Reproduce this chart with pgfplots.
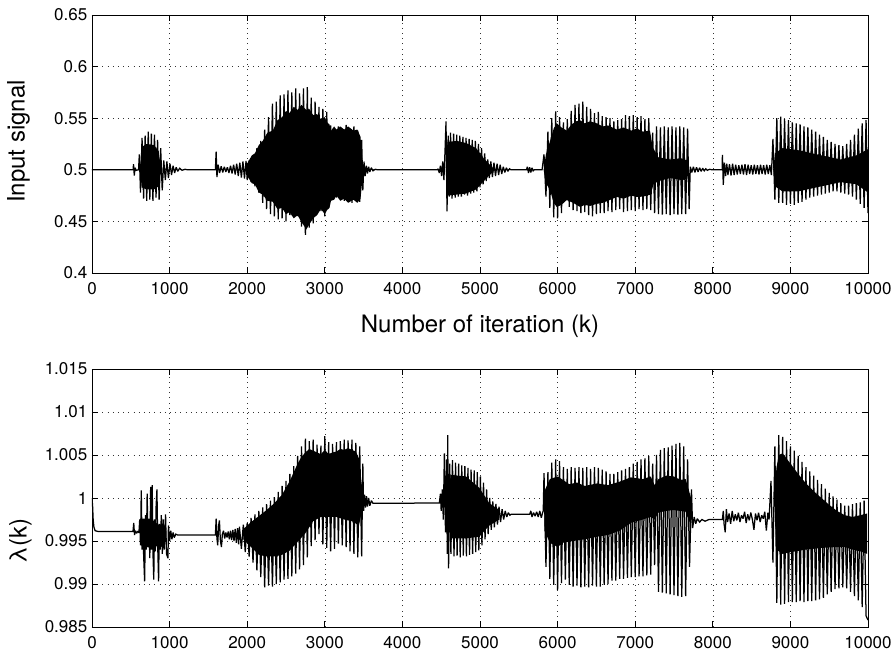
\documentclass[border=0pt]{standalone}
\usepackage{fontspec}
\setmainfont{TeX Gyre Heros}
\usepackage{pgfplots}
\pgfplotsset{compat=1.18}
\pgfplotsset{
  mystyle/.style={
    width=776pt, height=258pt, scale only axis,
    xmin=0, xmax=10000,
    xtick={0,1000,2000,3000,4000,5000,6000,7000,8000,9000,10000},
    xticklabels={0,1000,2000,3000,4000,5000,6000,7000,8000,9000,10000},
    scaled ticks=false,
    grid=major,
    major grid style={black!80, line width=0.6pt, dash pattern=on 0.8pt off 4.4pt},
    tick align=inside,
    major tick length=6pt,
    axis line style={black, line width=0.9pt},
    every tick/.style={black, line width=0.9pt},
    tick label style={font=\fontsize{17}{19}\selectfont, inner sep=0pt},
    xticklabel style={anchor=base, yshift=-21.5pt},
    yticklabel style={anchor=east, xshift=-4.5pt},
    label style={font=\fontsize{24}{28}\selectfont, inner sep=0pt},
    /pgf/number format/assume math mode=true,
  },
  sig/.style={black, line width=1.25pt, line join=miter, miter limit=2},
  core/.style={fill=black, draw=none},
}
\begin{document}
\begin{tikzpicture}
\useasboundingbox (-92pt,-380pt) rectangle (803pt,273pt);
% ---------------- top axis ----------------
\begin{axis}[mystyle, at={(0pt,0pt)}, anchor=south west,
  ymin=0.4, ymax=0.65,
  ytick={0.4,0.45,0.5,0.55,0.6,0.65},
  yticklabels={0.4,0.45,0.5,0.55,0.6,0.65},
  xlabel={Number of iteration (k)},
  xlabel style={at={(axis description cs:0.5,0)}, anchor=base, yshift=-59.7pt},
  ylabel={Input signal},
  ylabel style={at={(axis description cs:-0.0799,0.51)}, anchor=south},
]
% cores
\addplot[core] coordinates {(620,0.500)(640,0.522)(700,0.525)(800,0.524)(860,0.518)(890,0.5)(860,0.484)(800,0.481)(700,0.481)(640,0.483)} -- cycle;
\addplot[core] coordinates {(2000,0.506)(2060,0.514)(2100,0.516)(2150,0.524)(2200,0.528)(2260,0.536)(2330,0.538)(2390,0.548)(2450,0.551)(2500,0.557)(2545,0.555)(2600,0.561)(2650,0.558)(2700,0.563)(2760,0.558)(2800,0.559)(2850,0.553)(2900,0.554)(2950,0.549)(3000,0.551)(3030,0.546)(3060,0.544)(3080,0.538)(3120,0.542)(3150,0.539)(3200,0.542)(3250,0.539)(3300,0.542)(3370,0.538)(3420,0.539)(3460,0.532)(3490,0.505)(3490,0.495)(3460,0.472)(3420,0.468)(3370,0.471)(3300,0.468)(3250,0.472)(3200,0.470)(3150,0.475)(3120,0.471)(3080,0.470)(3060,0.463)(3030,0.461)(3000,0.457)(2950,0.462)(2900,0.456)(2850,0.453)(2800,0.447)(2760,0.442)(2730,0.446)(2700,0.449)(2650,0.456)(2600,0.453)(2545,0.459)(2500,0.457)(2450,0.463)(2390,0.462)(2330,0.469)(2260,0.470)(2200,0.476)(2150,0.478)(2100,0.486)(2060,0.487)(2000,0.494)} -- cycle;
\addplot[core] coordinates {(4560,0.5)(4580,0.527)(4700,0.528)(4820,0.526)(4950,0.521)(5050,0.511)(5150,0.503)(5200,0.5)(5150,0.497)(5050,0.489)(4950,0.481)(4820,0.477)(4700,0.476)(4580,0.475)} -- cycle;
\addplot[core] coordinates {(5820,0.5)(5850,0.515)(5903,0.528)(5950,0.540)(5990,0.545)(6050,0.541)(6118,0.538)(6180,0.544)(6240,0.547)(6290,0.548)(6350,0.545)(6420,0.547)(6505,0.545)(6580,0.542)(6650,0.543)(6763,0.539)(6850,0.541)(6950,0.538)(7021,0.540)(7100,0.537)(7190,0.538)(7225,0.522)(7300,0.512)(7450,0.510)(7600,0.511)(7670,0.509)(7690,0.5)(7670,0.491)(7600,0.490)(7450,0.492)(7300,0.489)(7236,0.486)(7200,0.476)(7100,0.474)(7021,0.4737)(6950,0.475)(6850,0.472)(6763,0.4737)(6650,0.470)(6580,0.468)(6505,0.467)(6420,0.465)(6350,0.466)(6290,0.464)(6200,0.468)(6118,0.4707)(6050,0.466)(5989,0.464)(5950,0.468)(5903,0.4804)(5850,0.487)} -- cycle;
\addplot[core] coordinates {(8780,0.5)(8800,0.516)(8900,0.521)(9100,0.519)(9400,0.514)(9650,0.510)(9850,0.514)(10000,0.520)(10000,0.478)(9850,0.486)(9650,0.488)(9400,0.484)(9100,0.479)(8900,0.479)(8800,0.484)} -- cycle;
% signal
\addplot[sig] coordinates {
(0,0.5)(530,0.5)(535,0.5055)(545,0.4945)(555,0.502)(570,0.4995)(600,0.5)
(610,0.515)(625,0.478)(645,0.531)(665,0.472)(685,0.533)(705,0.470)(725,0.537)(745,0.471)(765,0.535)(785,0.470)(805,0.534)(825,0.473)(845,0.529)(865,0.471)(885,0.521)(905,0.480)
(925,0.509)(945,0.490)(965,0.508)(985,0.492)(1005,0.506)(1025,0.495)(1045,0.504)(1065,0.497)(1085,0.5025)(1105,0.4985)(1130,0.5015)(1160,0.4995)(1200,0.5005)(1230,0.5)(1590,0.5)
(1600,0.5177)(1610,0.493)(1625,0.505)(1645,0.497)(1665,0.5035)(1685,0.4975)(1705,0.503)(1725,0.498)(1745,0.5025)(1765,0.497)(1785,0.504)(1805,0.4965)(1825,0.505)(1845,0.4955)(1865,0.506)(1885,0.494)(1905,0.507)(1925,0.4925)(1945,0.508)(1965,0.4915)(1985,0.5085)
(2000,0.490)(2025,0.509)(2050,0.488)(2075,0.513)(2100,0.484)(2125,0.521)(2150,0.478)(2175,0.528)(2200,0.468)(2225,0.539)(2250,0.462)(2275,0.551)(2300,0.457)(2325,0.564)(2350,0.455)(2375,0.566)(2400,0.452)(2425,0.572)(2450,0.453)(2475,0.573)(2500,0.450)(2525,0.577)(2550,0.456)(2575,0.575)(2600,0.458)(2625,0.579)(2650,0.455)(2675,0.574)(2700,0.445)(2725,0.579)(2750,0.437)(2775,0.580)(2800,0.444)(2825,0.570)(2850,0.448)(2875,0.566)(2900,0.457)(2925,0.561)(2950,0.460)(2975,0.559)(3000,0.455)(3025,0.556)(3050,0.465)(3075,0.543)(3100,0.474)(3125,0.539)(3150,0.473)(3175,0.542)(3200,0.472)(3225,0.538)(3250,0.470)(3275,0.5435)(3300,0.469)(3325,0.540)(3350,0.468)(3375,0.542)(3400,0.470)(3425,0.538)(3450,0.469)(3475,0.529)(3490,0.480)
(3505,0.508)(3520,0.494)(3535,0.504)(3550,0.4965)(3565,0.503)(3580,0.498)(3600,0.502)(3620,0.499)(3650,0.5005)(3680,0.5)(4450,0.5)
(4460,0.501)(4475,0.497)(4490,0.504)(4505,0.494)(4520,0.508)(4535,0.49)(4550,0.52)(4562,0.5468)(4575,0.4597)(4590,0.533)(4605,0.474)(4620,0.536)(4640,0.472)(4660,0.535)(4680,0.473)(4700,0.534)(4720,0.474)(4740,0.533)(4760,0.474)(4780,0.532)(4800,0.476)(4820,0.531)(4840,0.475)(4860,0.530)(4880,0.477)(4900,0.529)(4920,0.478)(4940,0.528)(4960,0.479)(4980,0.525)(5000,0.483)(5020,0.521)(5040,0.486)(5060,0.516)(5080,0.489)(5100,0.510)(5120,0.492)(5140,0.508)(5160,0.493)(5180,0.507)(5200,0.494)(5220,0.506)(5240,0.495)(5260,0.505)(5280,0.496)(5300,0.503)(5320,0.4975)(5340,0.502)(5360,0.4985)(5380,0.501)(5400,0.5)(5600,0.5)
(5610,0.503)(5625,0.497)(5640,0.5025)(5655,0.4975)(5670,0.502)(5685,0.499)(5700,0.5)(5790,0.5)
(5800,0.500)(5825,0.515)(5850,0.474)(5875,0.537)(5900,0.463)(5925,0.550)(5950,0.454)(5975,0.5565)(6000,0.453)(6025,0.551)(6050,0.458)(6075,0.546)(6100,0.471)(6125,0.549)(6150,0.464)(6175,0.557)(6200,0.461)(6225,0.563)(6250,0.460)(6275,0.564)(6300,0.458)(6325,0.566)(6350,0.459)(6375,0.561)(6400,0.456)(6425,0.559)(6450,0.455)(6475,0.555)(6500,0.457)(6525,0.556)(6550,0.458)(6575,0.552)(6600,0.458)(6625,0.551)(6650,0.460)(6675,0.550)(6700,0.459)(6725,0.547)(6750,0.461)(6775,0.548)(6800,0.462)(6825,0.549)(6850,0.459)(6875,0.553)(6900,0.460)(6925,0.552)(6950,0.461)(6975,0.553)(7000,0.460)(7025,0.551)(7050,0.462)(7075,0.552)(7100,0.461)(7125,0.549)(7150,0.462)(7175,0.550)(7200,0.461)(7225,0.536)(7250,0.458)(7275,0.542)(7300,0.457)(7325,0.541)(7350,0.4565)(7375,0.542)(7400,0.457)(7425,0.541)(7450,0.456)(7475,0.542)(7500,0.457)(7525,0.541)(7550,0.4565)(7575,0.542)(7600,0.457)(7625,0.541)(7650,0.457)(7675,0.540)(7695,0.462)
(7710,0.503)(7730,0.4975)(7750,0.503)(7770,0.4975)(7790,0.5025)(7810,0.498)(7830,0.502)(7850,0.4985)(7870,0.5015)(7890,0.499)(7910,0.501)(7930,0.4995)(7960,0.5005)(7990,0.5)(8120,0.5)
(8124,0.5145)(8135,0.4855)(8150,0.507)(8165,0.494)(8180,0.506)(8195,0.495)(8215,0.5055)(8235,0.4945)(8255,0.506)(8275,0.495)(8295,0.505)(8315,0.4955)(8335,0.5045)(8355,0.496)(8375,0.505)(8395,0.4955)(8415,0.5055)(8435,0.495)(8455,0.505)(8475,0.496)(8495,0.5045)(8515,0.4955)(8535,0.505)(8555,0.496)(8575,0.5045)(8595,0.4955)(8615,0.505)(8635,0.496)(8655,0.5045)(8675,0.4955)(8695,0.505)(8715,0.496)(8735,0.5045)(8755,0.495)
(8775,0.530)(8800,0.471)(8825,0.550)(8850,0.468)(8875,0.5516)(8900,0.468)(8925,0.549)(8950,0.466)(8975,0.548)(9000,0.467)(9025,0.546)(9050,0.466)(9075,0.545)(9100,0.468)(9125,0.544)(9150,0.469)(9175,0.542)(9200,0.471)(9225,0.541)(9250,0.473)(9275,0.539)(9300,0.474)(9325,0.537)(9350,0.475)(9375,0.534)(9400,0.476)(9425,0.532)(9450,0.477)(9475,0.529)(9500,0.478)(9525,0.527)(9550,0.479)(9575,0.525)(9600,0.479)(9625,0.524)(9650,0.478)(9675,0.523)(9700,0.477)(9725,0.525)(9750,0.476)(9775,0.529)(9800,0.474)(9825,0.534)(9850,0.471)(9875,0.540)(9900,0.467)(9925,0.545)(9950,0.463)(9975,0.548)(10000,0.458)
};
\end{axis}
% ---------------- bottom axis ----------------
\begin{axis}[mystyle, at={(0pt,-354pt)}, anchor=south west,
  ymin=0.985, ymax=1.015,
  ytick={0.985,0.99,0.995,1,1.005,1.01,1.015},
  yticklabels={0.985,0.99,0.995,1,1.005,1.01,1.015},
  ylabel={λ(k)},
  ylabel style={at={(axis description cs:-0.0773,0.333)}, anchor=south},
]
\addplot[core] coordinates {(620,0.9960)(640,0.9976)(760,0.9976)(840,0.9970)(900,0.9966)(960,0.9961)(960,0.9950)(900,0.9947)(840,0.9944)(760,0.9942)(640,0.9944)} -- cycle;
\addplot[core] coordinates {(1950,0.9964)(2050,0.9972)(2150,0.9979)(2250,0.9986)(2350,0.9994)(2450,1.0004)(2550,1.0020)(2650,1.0040)(2700,1.0048)(2750,1.0053)(2800,1.0057)(2850,1.0055)(2900,1.0053)(2950,1.0051)(3000,1.0056)(3050,1.0051)(3100,1.0053)(3150,1.0054)(3200,1.0057)(3250,1.0056)(3300,1.0058)(3350,1.0056)(3400,1.0054)(3440,1.0046)(3489,1.0005)(3489,0.9990)(3440,0.9968)(3350,0.9973)(3250,0.9975)(3150,0.9978)(3050,0.9978)(2950,0.9978)(2850,0.9973)(2750,0.9959)(2650,0.9949)(2550,0.9939)(2450,0.9934)(2350,0.9932)(2250,0.9932)(2150,0.9934)(2050,0.9943)(1950,0.9952)} -- cycle;
\addplot[core] coordinates {(4590,0.9990)(4620,1.0027)(4820,1.0025)(4990,1.0012)(5120,0.9994)(5250,0.9986)(5250,0.9975)(5120,0.9968)(4990,0.9955)(4820,0.9953)(4620,0.9953)} -- cycle;
\addplot[core] coordinates {(5830,1.0008)(5900,1.0022)(6000,1.0025)(6071,1.0021)(6150,1.0016)(6250,1.0018)(6350,1.0014)(6510,1.0017)(6650,1.0015)(6800,1.0019)(6942,1.0024)(7100,1.0022)(7200,1.0025)(7250,1.0015)(7300,1.0022)(7400,1.0026)(7500,1.0025)(7580,1.0021)(7650,1.0022)(7720,1.0000)(7720,0.9967)(7650,0.9984)(7500,0.9986)(7400,0.9985)(7300,0.9983)(7250,0.9975)(7200,0.9978)(7100,0.9975)(6942,0.9971)(6800,0.9962)(6650,0.9957)(6510,0.9955)(6350,0.9952)(6200,0.9950)(6071,0.9948)(6000,0.9943)(5900,0.9948)(5830,0.9962)} -- cycle;
\addplot[core] coordinates {(8790,1.0000)(8820,1.0035)(8850,1.0050)(8900,1.0052)(8950,1.0046)(9000,1.0040)(9100,1.0028)(9200,1.0017)(9300,1.0008)(9400,1.0000)(9500,0.9992)(9600,0.9985)(9700,0.9980)(9800,0.9978)(9900,0.9980)(9990,0.9982)(9990,0.9935)(9900,0.9938)(9800,0.9940)(9700,0.9943)(9600,0.9943)(9400,0.9942)(9200,0.9940)(9000,0.9937)(8900,0.9935)(8820,0.9940)} -- cycle;
\addplot[sig] coordinates {
(0,1.0000)(8,0.9990)(15,0.9975)(25,0.9966)(40,0.9962)(80,0.9961)(528,0.9961)
(538,0.9971)(548,0.9957)(560,0.9962)(575,0.9959)(590,0.9961)(600,0.9960)
(605,0.9960)(615,0.9975)(625,0.9945)(635,1.0009)(645,0.9940)(655,0.9972)(665,0.9935)(678,0.9903)(690,0.9980)(700,0.9940)(711,1.0005)(721,0.9950)(733,0.9975)(745,0.9930)(756,1.0013)(766,0.9940)(776,1.0015)(786,0.9935)(796,0.9905)(806,0.9975)(816,0.9938)(826,0.9990)(837,1.0010)(848,0.9940)(858,0.9903)(868,0.9970)(880,0.9940)(893,0.9980)(906,0.9935)(918,0.9975)(930,0.9940)(948,0.9981)(960,0.9935)(979,0.9930)(985,0.9968)(1000,0.9950)(1015,0.9962)(1030,0.9952)(1045,0.9960)(1060,0.9954)(1080,0.9958)(1100,0.9957)(1580,0.9957)
(1590,0.9957)(1600,0.9976)(1610,0.9953)(1620,0.9945)(1632,0.9968)(1642,0.9974)(1655,0.9950)(1668,0.9943)(1680,0.9958)(1695,0.9962)(1710,0.9953)(1725,0.9960)(1740,0.9954)(1755,0.9961)(1770,0.9952)(1785,0.9962)(1800,0.9951)(1815,0.9963)(1830,0.9950)(1845,0.9964)(1860,0.9948)(1875,0.9965)(1890,0.9946)
(1900,0.99666)(1925,0.9941)(1950,0.9969)(1975,0.9937)(2000,0.9971)(2025,0.9932)(2050,0.9977)(2075,0.9925)(2100,0.9981)(2125,0.9916)(2150,0.9985)(2175,0.9908)(2200,0.9989)(2225,0.9896)(2250,0.9993)(2275,0.9898)(2300,0.9997)(2325,0.9897)(2350,1.0001)(2375,0.9900)(2400,1.0007)(2425,0.9902)(2450,1.0014)(2475,0.9905)(2500,1.0020)(2525,0.9906)(2550,1.0028)(2575,0.9909)(2600,1.0037)(2625,0.9912)(2650,1.0049)(2675,0.9917)(2700,1.0060)(2725,0.9922)(2750,1.0069)(2775,0.9931)(2800,1.0066)(2825,0.9944)(2850,1.0068)(2875,0.9951)(2900,1.0062)(2925,0.9958)(2950,1.0061)(2975,0.9946)(3000,1.0072)(3025,0.9942)(3050,1.0065)(3075,0.9938)(3100,1.0063)(3125,0.9941)(3150,1.0065)(3175,0.9947)(3200,1.0066)(3225,0.9945)(3250,1.0068)(3275,0.9943)(3300,1.0067)(3325,0.9938)(3350,1.0068)(3375,0.9935)(3400,1.0064)(3425,0.9931)(3450,1.0060)(3475,0.9932)(3490,1.0040)
(3500,0.9985)(3512,1.0004)(3525,0.9989)(3538,1.0002)(3550,0.9990)(3565,1.0000)(3580,0.9991)(3600,0.9997)(3620,0.9994)(3650,0.99938)(4476,0.99942)
(4490,1.0005)(4500,0.9985)(4515,1.0010)(4527,0.9975)(4541,1.0052)(4555,0.9960)(4570,1.0045)(4578,0.9935)(4584,1.0073)(4595,0.99181)(4610,1.0040)(4625,0.9935)(4645,1.0044)(4665,0.9932)(4685,1.0041)(4705,0.9933)(4725,1.0040)(4745,0.9931)(4765,1.0038)(4785,0.9933)(4805,1.0037)(4825,0.9932)(4845,1.0035)(4865,0.9934)(4885,1.0033)(4905,0.9935)(4925,1.0032)(4945,0.9937)(4965,1.0030)(4985,0.9939)(5005,1.0025)(5025,0.9945)(5045,1.0018)(5065,0.9952)(5085,1.0010)(5105,0.9958)(5125,1.0000)(5145,0.9963)(5165,0.9996)(5185,0.9966)(5205,0.9993)(5225,0.9969)(5245,0.9990)(5265,0.9972)(5285,0.9987)(5305,0.9975)(5325,0.9985)(5345,0.9978)(5365,0.9983)(5385,0.9980)(5400,0.9981)(5640,0.9981)
(5655,0.9985)(5670,0.9978)(5690,0.9983)(5710,0.9979)(5730,0.9984)(5750,0.9978)(5770,0.9985)(5790,0.9977)(5807,0.9983)
(5815,0.9985)(5825,1.0029)(5850,0.9920)(5875,1.0030)(5900,0.9906)(5925,1.0041)(5950,0.9899)(5975,1.0045)(6000,0.9893)(6025,1.0043)(6050,0.9901)(6075,1.0036)(6100,0.9905)(6125,1.0034)(6150,0.9899)(6175,1.0036)(6200,0.9897)(6225,1.0035)(6250,0.9898)(6275,1.0036)(6300,0.9896)(6325,1.0035)(6350,0.9897)(6375,1.0036)(6400,0.9896)(6425,1.0034)(6450,0.9898)(6475,1.0036)(6500,0.9897)(6525,1.0035)(6550,0.9897)(6575,1.0033)(6600,0.9899)(6625,1.0031)(6650,0.9900)(6675,1.0028)(6700,0.9904)(6725,1.0028)(6750,0.9904)(6775,1.0030)(6800,0.9906)(6825,1.0032)(6850,0.9906)(6875,1.0034)(6900,0.9907)(6925,1.0036)(6950,0.9908)(6975,1.0040)(7000,0.9908)(7025,1.0042)(7050,0.9909)(7075,1.0045)(7100,0.9909)(7125,1.0046)(7150,0.9910)(7175,1.0049)(7200,0.9911)(7225,1.0040)(7250,0.9922)(7275,1.0050)(7300,0.9891)(7325,1.0056)(7350,0.9890)(7375,1.0058)(7400,0.9889)(7425,1.0059)(7450,0.9888)(7475,1.0061)(7500,0.9887)(7525,1.0063)(7550,0.9886)(7575,1.0064)(7600,0.9885)(7625,1.0060)(7650,0.9886)(7675,1.0045)(7700,0.9920)(7725,1.0010)(7740,0.9965)
(7760,0.9978)(7780,0.9970)(7800,0.9976)(7830,0.9972)(7860,0.9975)(7900,0.9973)(7950,0.9975)(8000,0.9975)(8120,0.9975)
(8124,0.9975)(8135,0.9985)(8145,0.9970)(8160,0.9960)(8175,0.9987)(8190,0.9972)(8210,0.9982)(8230,0.9970)(8250,0.9985)(8270,0.9973)(8290,0.9981)(8310,0.9974)(8330,0.9983)(8350,0.9972)(8370,0.9980)(8390,0.9976)(8410,0.9984)(8430,0.9971)(8450,0.9981)(8470,0.9974)(8490,0.9983)(8510,0.9975)(8530,0.9963)(8550,0.9982)(8570,0.9974)(8590,0.9983)(8610,0.9972)(8630,0.9980)(8650,0.9976)(8670,0.9984)(8690,0.9962)(8710,0.9983)(8725,0.9975)
(8750,1.0020)(8775,0.9925)(8800,1.0060)(8825,0.9878)(8850,1.0073)(8875,0.9876)(8900,1.0071)(8925,0.9877)(8950,1.0066)(8975,0.9879)(9000,1.0060)(9025,0.9879)(9050,1.0055)(9075,0.9879)(9100,1.0049)(9125,0.9880)(9150,1.0042)(9175,0.9879)(9200,1.0036)(9225,0.9880)(9250,1.0031)(9275,0.9880)(9300,1.0026)(9325,0.9881)(9350,1.0021)(9375,0.9882)(9400,1.0016)(9425,0.9884)(9450,1.0011)(9475,0.9888)(9500,1.0006)(9525,0.9891)(9550,1.0002)(9575,0.9894)(9600,0.9998)(9625,0.9895)(9650,0.9994)(9675,0.9896)(9700,0.9991)(9725,0.9895)(9750,0.9991)(9775,0.9891)(9800,0.9993)(9825,0.9886)(9850,0.9994)(9875,0.9881)(9900,0.9995)(9925,0.9873)(9950,0.9997)(9975,0.9863)(10000,0.9858)
};
\end{axis}
\end{tikzpicture}
\end{document}
